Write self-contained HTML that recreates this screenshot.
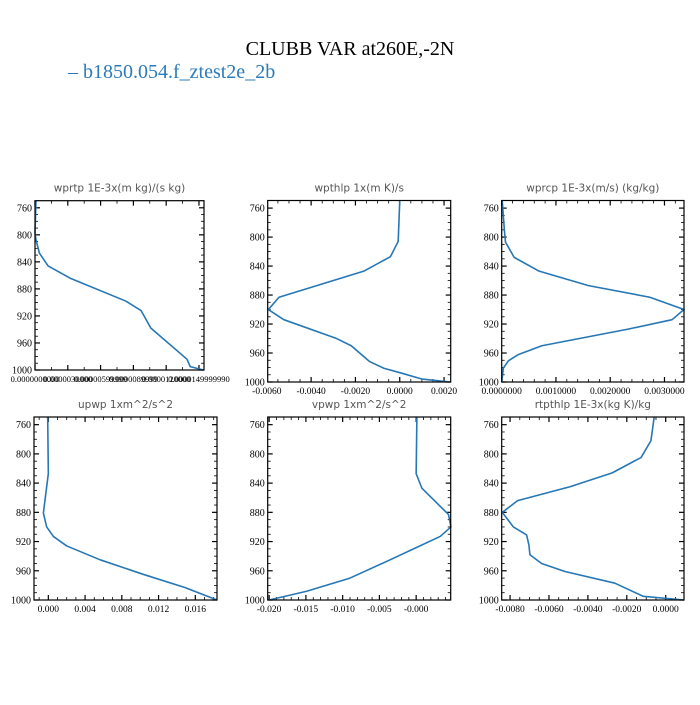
<!DOCTYPE html>
<html><head><meta charset="utf-8"><style>
html,body{margin:0;padding:0;background:#fff;}
svg text{font-family:"Liberation Serif",serif;}
.pt{font-family:"DejaVu Sans","Liberation Sans",sans-serif;font-size:10.5px;fill:#555;}
</style></head><body>
<svg id="chart" width="700" height="700" viewBox="0 0 700 700" xmlns="http://www.w3.org/2000/svg">
<text x="350" y="55" text-anchor="middle" font-size="20" fill="#000">CLUBB VAR at260E,-2N</text>
<text x="68" y="78" font-size="20" fill="#2b7bba">– b1850.054.f_ztest2e_2b</text>
</svg>
<script>
// ---- data (pressure levels and values per panel) ----
const wprtpP   = [749,798,808,827,846,864,898,912,938,984,995,1000];
const wprtpX   = [0.09e-6,0,0.1e-6,0.4e-6,1.2e-6,3.2e-6,8.3e-6,9.7e-6,10.6e-6,13.9e-6,14.2e-6,15.4e-6];
const wprtpTicks = [0,3e-6,6e-6,9e-6,12e-6,15e-6];
const wprtpLabels = ["0.0000000000","0.0000030000","0.00000599999","0.0000089999","0.0000120000","0.0000149999990"];

const wpthlpP  = [750,806,827,847,883,900,914,940,950,972,981,988,996,1000];
const wpthlpX  = [0,-0.00007,-0.00042,-0.00162,-0.00545,-0.00593,-0.00523,-0.00285,-0.00219,-0.00135,-0.00072,0.00011,0.00101,0.00228];
const wpthlpTicks = [-0.006,-0.004,-0.002,0,0.002];
const wpthlpLabels = ["-0.0060","-0.0040","-0.0020","0.0000","0.0020"];

const wprcpP   = [750,791,807,828,847,867,883,900,914,927,950,962,971,981,1000];
const wprcpX   = [0.00001,0.00005,0.00007,0.00023,0.00069,0.0016,0.00273,0.00336,0.00314,0.00233,0.00074,0.00031,0.00012,0.00003,0];
const wprcpTicks = [0,0.001,0.002,0.003];
const wprcpLabels = ["0.0000000","0.0010000","0.0020000","0.0030000"];

const upwpP    = [749,827,863,881,900,913,926,945,965,983,1000];
const upwpX    = [-0.00007,0,-0.00036,-0.00054,-0.00018,0.00055,0.002,0.00564,0.01036,0.0149,0.01836];
const upwpTicks = [0,0.004,0.008,0.012,0.016];
const upwpLabels = ["0.000","0.004","0.008","0.012","0.016"];

const vpwpP    = [749,827,847,880,883,900,913,929,945,970,988,1000];
const vpwpX    = [0.0001,0,0.00078,0.0041,0.0044,0.00473,0.00327,-0.00014,-0.00354,-0.009,-0.0149,-0.02];
const vpwpTicks = [-0.02,-0.015,-0.01,-0.005,0];
const vpwpLabels = ["-0.020","-0.015","-0.010","-0.005","-0.000"];

const rtpthlpP = [749,782,805,826,845,864,880,900,911,925,938,950,961,977,995,1000];
const rtpthlpX = [-0.00059,-0.00076,-0.00127,-0.00275,-0.00492,-0.00761,-0.0084,-0.00783,-0.00715,-0.00703,-0.00698,-0.00638,-0.00518,-0.00261,-0.00115,0.00094];
const rtpthlpTicks = [-0.008,-0.006,-0.004,-0.002,0];
const rtpthlpLabels = ["-0.0080","-0.0060","-0.0040","-0.0020","0.0000"];

const yTicks = [760,800,840,880,920,960,1000];

const NS='http://www.w3.org/2000/svg';
const svg=document.getElementById('chart');
function mk(tag,attrs,parent){const e=document.createElementNS(NS,tag);for(const k in attrs)e.setAttribute(k,attrs[k]);(parent||svg).appendChild(e);return e;}

function panel(name,title,P,X,ticks,labels,box,xmin,xmax,minorStep){
  const g=mk('g',{});
  
  
  const [L,T,R,B]=box;
  const ymin=749.5,ymax=1000;
  const sx=v=>L+(v-xmin)/(xmax-xmin)*(R-L);
  const sy=p=>T+(p-ymin)/(ymax-ymin)*(B-T);
  const t=mk('text',{x:(L+R)/2,y:T-9,'text-anchor':'middle',class:'pt'},g);
  t.textContent=title;
  
  
  // minor y ticks
  for(let p=760;p<=1000;p+=10){
    const y=sy(p),maj=(p-760)%40===0,len=maj?5:3;
    mk('line',{x1:L,x2:L+len,y1:y,y2:y,stroke:'#000','stroke-width':maj?1.2:0.8},g);
    mk('line',{x1:R,x2:R-len,y1:y,y2:y,stroke:'#000','stroke-width':maj?1.2:0.8},g);
  }
  yTicks.forEach(p=>{
    const tx=mk('text',{x:L-3,y:sy(p)+3.5,'text-anchor':'end','font-size':10,fill:'#000'},g);
    tx.textContent=String(p);
    
    
  });
  // x ticks
  const m0=Math.ceil((xmin)/minorStep-1e-9);
  for(let k=m0;k*minorStep<=xmax+1e-12;k++){
    const v=k*minorStep,x=sx(v);
    const maj=ticks.some(tv=>Math.abs(tv-v)<minorStep*0.01),len=maj?5:3;
    mk('line',{x1:x,x2:x,y1:B,y2:B-len,stroke:'#000','stroke-width':maj?1.2:0.8},g);
    mk('line',{x1:x,x2:x,y1:T,y2:T+len,stroke:'#000','stroke-width':maj?1.2:0.8},g);
  }
  ticks.forEach((v,i)=>{
    const tx=mk('text',{x:sx(v),y:B+12,'text-anchor':'middle','font-size':name==='wprtp'?8.5:9.5,fill:'#000'},g);
    tx.textContent=labels[i];
    
    
  });
  const d=P.map((p,i)=>(i?'L':'M')+sx(X[i]).toFixed(2)+','+sy(p).toFixed(2)).join(' ');
  const ln=mk('path',{d:d,fill:'none',stroke:'#2677b5','stroke-width':1.6,'stroke-linejoin':'round'},g);
  
  
  const r=mk('rect',{x:L,y:T,width:R-L,height:B-T,fill:'none',stroke:'#000','stroke-width':1.2},g);
  
  
}
panel('wprtp','wprtp  1E-3x(m kg)/(s kg)',wprtpP,wprtpX,wprtpTicks,wprtpLabels,[35,200.7,204,370],0,15.46e-6,1.5e-6);
panel('wpthlp','wpthlp  1x(m K)/s',wpthlpP,wpthlpX,wpthlpTicks,wpthlpLabels,[267.7,200.5,450.7,382],-0.00596,0.0023,0.0005);
panel('wprcp','wprcp  1E-3x(m/s) (kg/kg)',wprcpP,wprcpX,wprcpTicks,wprcpLabels,[501.7,200.5,684,382],0,0.00336,0.0002);
panel('upwp','upwp  1xm^2/s^2',upwpP,upwpX,upwpTicks,upwpLabels,[34,417,217,600],-0.00156,0.01836,0.001);
panel('vpwp','vpwp  1xm^2/s^2',vpwpP,vpwpX,vpwpTicks,vpwpLabels,[267.7,417,450.7,600],-0.0202,0.0047,0.001);
panel('rtpthlp','rtpthlp  1E-3x(kg K)/kg',rtpthlpP,rtpthlpX,rtpthlpTicks,rtpthlpLabels,[501.7,417,684,600],-0.00843,0.00094,0.0005);
</script>
</body></html>
